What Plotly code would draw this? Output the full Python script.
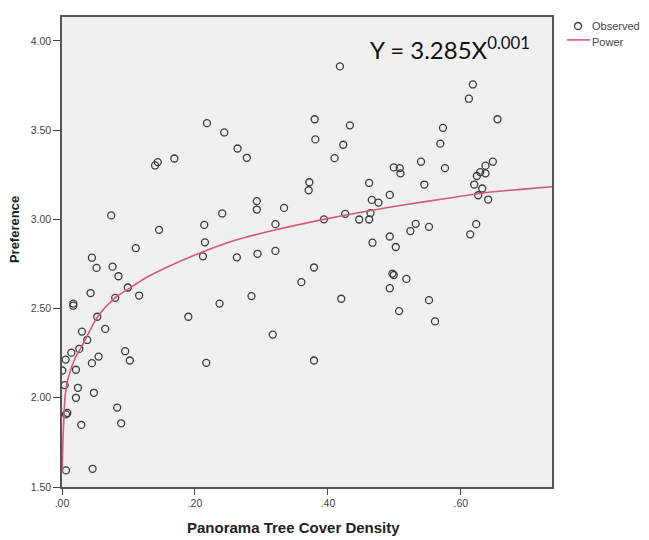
import plotly.graph_objects as go

# Observed points (x = Panorama Tree Cover Density, y = Preference)
obs_x = [0.218, 0.244, 0.264, 0.278, 0.140, 0.144, 0.169, 0.380, 0.381, 0.372,
         0.371, 0.394, 0.293, 0.293, 0.334, 0.241, 0.214, 0.321, 0.146, 0.074,
         0.215, 0.111, 0.212, 0.263, 0.294, 0.321, 0.379, 0.045, 0.052, 0.076,
         0.085, 0.043, 0.080, 0.099, 0.116, 0.017, 0.017, 0.053, 0.065, 0.030,
         0.038, 0.026, 0.014, 0.0055, 0.0005, 0.021, 0.045, 0.055, 0.095, 0.102,
         0.004, 0.024, 0.021, 0.048, 0.008, 0.006, 0.029, 0.083, 0.089, 0.006,
         0.046, 0.190, 0.237, 0.285, 0.217, 0.317, 0.360, 0.379, 0.418, 0.433,
         0.423, 0.410, 0.618, 0.612, 0.655, 0.573, 0.569, 0.576, 0.540, 0.499,
         0.508, 0.509, 0.462, 0.545, 0.466, 0.476, 0.493, 0.624, 0.629, 0.637,
         0.648, 0.637, 0.620, 0.632, 0.626, 0.641, 0.426, 0.447, 0.462, 0.464,
         0.532, 0.524, 0.552, 0.467, 0.493, 0.502, 0.623, 0.614, 0.497, 0.499,
         0.518, 0.493, 0.420, 0.552, 0.507, 0.561]
obs_y = [3.539, 3.487, 3.397, 3.345, 3.302, 3.321, 3.341, 3.561, 3.448, 3.208,
         3.163, 3.000, 3.102, 3.055, 3.064, 3.033, 2.969, 2.973, 2.941, 3.022,
         2.871, 2.839, 2.793, 2.787, 2.807, 2.823, 2.730, 2.785, 2.728, 2.735,
         2.681, 2.587, 2.560, 2.618, 2.573, 2.528, 2.516, 2.454, 2.386, 2.371,
         2.324, 2.274, 2.253, 2.214, 2.153, 2.157, 2.194, 2.231, 2.261, 2.209,
         2.071, 2.056, 2.000, 2.028, 1.915, 1.907, 1.848, 1.945, 1.857, 1.593,
         1.602, 2.454, 2.528, 2.570, 2.196, 2.354, 2.648, 2.209, 3.857, 3.527,
         3.418, 3.343, 3.756, 3.676, 3.561, 3.513, 3.424, 3.287, 3.323, 3.291,
         3.287, 3.258, 3.204, 3.195, 3.109, 3.094, 3.137, 3.243, 3.265, 3.301,
         3.323, 3.258, 3.195, 3.173, 3.135, 3.111, 3.031, 2.999, 2.999, 3.035,
         2.975, 2.934, 2.958, 2.869, 2.904, 2.845, 2.973, 2.916, 2.696, 2.688,
         2.666, 2.614, 2.555, 2.547, 2.486, 2.428]

# Power fit curve
fit_x = [0.0004, 0.0008, 0.0015, 0.003, 0.0045, 0.007, 0.01, 0.0195, 0.03,
         0.0396, 0.0546, 0.0797, 0.1, 0.125, 0.157, 0.2, 0.258, 0.32, 0.394,
         0.45, 0.513, 0.575, 0.639, 0.69, 0.737]
fit_y = [1.58, 1.67, 1.77, 1.90, 2.00, 2.07, 2.12, 2.22, 2.29,
         2.36, 2.46, 2.56, 2.61, 2.67, 2.73, 2.80, 2.88, 2.94, 3.00,
         3.04, 3.08, 3.115, 3.15, 3.168, 3.183]

x_ticks = [0.0, 0.2, 0.4, 0.6]
x_tick_labels = [".00", ".20", ".40", ".60"]
y_ticks = [1.5, 2.0, 2.5, 3.0, 3.5, 4.0]
y_tick_labels = ["1.50", "2.00", "2.50", "3.00", "3.50", "4.00"]

equation_text = "Y = 3.285X<sup>0.001</sup>"
legend_names = ["Observed", "Power"]

MARK = "#3a3a3a"
CURVE = "#d4587a"
SANS = "Liberation Sans, Arial, sans-serif"

fig = go.Figure()
fig.add_trace(go.Scatter(
    x=obs_x, y=obs_y, mode="markers", name=legend_names[0], showlegend=False,
    marker=dict(symbol="circle-open", size=7, color=MARK,
                line=dict(width=1.3, color=MARK)),
))
fig.add_trace(go.Scatter(
    x=fit_x, y=fit_y, mode="lines", name=legend_names[1], showlegend=False,
    line=dict(color=CURVE, width=1.6, shape="spline", smoothing=0.8),
))

PW, PH = 490.0, 472.0  # plot area in px


def px_x(a):
    return (a - 62) / PW


def px_y(a):
    return (487 - a) / PH


axis_font = dict(family=SANS, size=10.5, color="#444")
fig.update_layout(
    width=641, height=532,
    margin=dict(l=54, r=97, t=7, b=53),
    paper_bgcolor="white",
    plot_bgcolor="#f0f0f0",
    showlegend=False,
    xaxis=dict(range=[0, 0.737], tickvals=x_ticks, ticktext=x_tick_labels,
               ticks="outside", ticklen=6, tickcolor="#444", tickfont=axis_font,
               showgrid=False, zeroline=False, showline=True, linecolor="#555",
               linewidth=1.5, mirror=True),
    yaxis=dict(range=[1.5, 4.134], tickvals=y_ticks, ticktext=y_tick_labels,
               ticks="outside", ticklen=7, tickcolor="#444", tickfont=axis_font,
               showgrid=False, zeroline=False, showline=True, linecolor="#555",
               linewidth=1.5, mirror=True),
    shapes=[
        # legend marker (open circle)
        dict(type="circle", xref="paper", yref="paper",
             x0=px_x(574.5), x1=px_x(581.5), y0=px_y(27.5), y1=px_y(20.5),
             line=dict(color=MARK, width=1.3)),
        # legend line
        dict(type="line", xref="paper", yref="paper",
             x0=px_x(567), x1=px_x(590), y0=px_y(38), y1=px_y(38),
             line=dict(color=CURVE, width=1.6)),
    ],
    annotations=[
        dict(text=legend_names[0], xref="paper", yref="paper",
             x=px_x(590), y=px_y(24.5), xanchor="left", yanchor="middle",
             showarrow=False, font=dict(family=SANS, size=11, color="#444")),
        dict(text=legend_names[1], xref="paper", yref="paper",
             x=px_x(590), y=px_y(40), xanchor="left", yanchor="middle",
             showarrow=False, font=dict(family=SANS, size=11, color="#444")),
        dict(text=equation_text, xref="paper", yref="paper",
             x=px_x(450), y=px_y(46), xanchor="center", yanchor="middle",
             showarrow=False,
             font=dict(family="Lato, Open Sans, sans-serif", size=24, color="#111")),
        dict(text="<b>Panorama Tree Cover Density</b>", xref="paper", yref="paper",
             x=px_x(293), y=px_y(528), xanchor="center", yanchor="middle",
             showarrow=False, font=dict(family=SANS, size=15, color="#222")),
        dict(text="<b>Preference</b>", xref="paper", yref="paper",
             x=px_x(14), y=px_y(229), xanchor="center", yanchor="middle",
             showarrow=False, textangle=-90,
             font=dict(family=SANS, size=13, color="#222")),
    ],
)

fig.write_html("out.html")
